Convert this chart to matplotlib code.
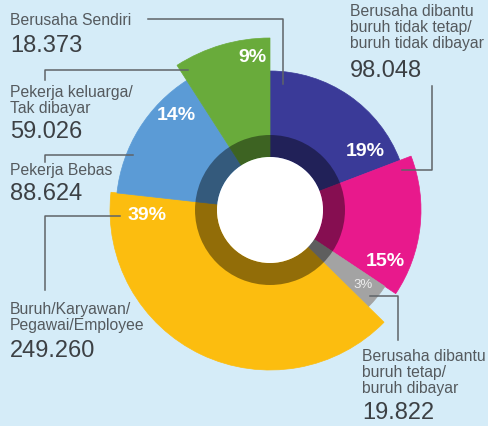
import numpy as np
import matplotlib
matplotlib.use("Agg")
import matplotlib.pyplot as plt

plt.rcParams['font.family'] = ['Liberation Sans', 'DejaVu Sans']

# slices, clockwise from 12 o'clock
pct = [19, 15, 3, 39, 14, 9]
pct_labels = ['19%', '15%', '3%', '39%', '14%', '9%']
colors = ['#3a3a98', '#e8198c', '#a3a3a3', '#fcbd0f', '#5b9bd6', '#69ab3b']
outer_r = [139, 151, 138, 160, 154, 172]   # each slice has its own outer radius

# callout texts
names = ['Berusaha Sendiri', 'Pekerja keluarga/\nTak dibayar', 'Pekerja Bebas',
         'Buruh/Karyawan/\nPegawai/Employee',
         'Berusaha dibantu\nburuh tidak tetap/\nburuh tidak dibayar',
         'Berusaha dibantu\nburuh tetap/\nburuh dibayar']
values = ['18.373', '59.026', '88.624', '249.260', '98.048', '19.822']

W, H = 489, 426
bg = '#d5ecf8'
fig = plt.figure(figsize=(W / 100, H / 100), dpi=100, facecolor=bg)

# polar donut, centre at (270, 210) px
cx, cy, R = 270, 210, 180
ax = fig.add_axes([(cx - R) / W, (H - cy - R) / H, 2 * R / W, 2 * R / H], projection='polar')
ax.set_theta_zero_location('N')
ax.set_theta_direction(-1)
ax.set_ylim(0, R)
ax.set_axis_off()

r_in, ring = 53, 22
widths = np.array(pct) / sum(pct) * 2 * np.pi
starts = np.concatenate([[0], np.cumsum(widths)[:-1]])
ax.bar(starts, np.array(outer_r) - r_in, width=widths, bottom=r_in, align='edge',
       color=colors, edgecolor=colors, linewidth=0.5)
# dark translucent ring and white hole
ax.bar(0, ring, width=2 * np.pi, bottom=r_in, color='black', alpha=0.42, linewidth=0)
ax.bar(0, r_in, width=2 * np.pi, bottom=0, color='white', linewidth=0)

# overlay in pixel units for callouts
ov = fig.add_axes([0, 0, 1, 1])
ov.set_xlim(0, W)
ov.set_ylim(H, 0)
ov.set_axis_off()
ov.patch.set_alpha(0)

lc = '#5f6468'
lw = 1.1
ov.plot([148, 283, 283], [19, 19, 84], color=lc, lw=lw)
ov.plot([45, 45, 188], [80, 70, 70], color=lc, lw=lw)
ov.plot([45, 45, 133], [162, 155, 155], color=lc, lw=lw)
ov.plot([45, 45, 120], [290, 216, 216], color=lc, lw=lw)
ov.plot([432, 432, 402], [86, 170, 170], color=lc, lw=lw)
ov.plot([370, 398, 398], [296, 296, 340], color=lc, lw=lw)

name_c = '#555a5e'
val_c = '#3c4044'
ls = 1.1
blocks = [(10, 13, 35), (10, 85, 121), (10, 163, 183), (10, 302, 340), (350, 4, 60), (362, 349, 402)]
for (x, yn, yv), n, v in zip(blocks, names, values):
    ov.text(x, yn, n, fontsize=11.3, color=name_c, va='top', ha='left', linespacing=ls)
    ov.text(x, yv, v, fontsize=17, color=val_c, va='top', ha='left')

pct_xy = [(365, 151), (385, 262), (363, 285), (147, 216), (176, 115), (252, 57)]
for (x, y), t in zip(pct_xy, pct_labels):
    small = t == '3%'
    ov.text(x, y, t, fontsize=9.5 if small else 14, fontweight='normal' if small else 'bold',
            color='#eeeeee' if small else 'white', ha='center', va='center')

fig.savefig('out.png', dpi=100, facecolor=bg)
